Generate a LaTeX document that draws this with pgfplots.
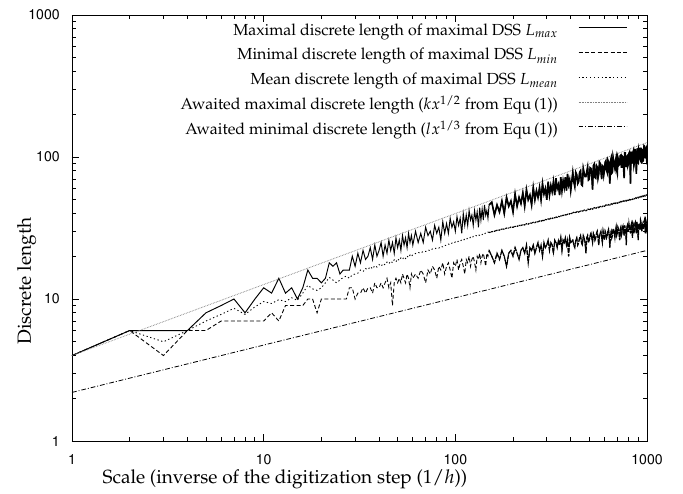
\documentclass[border=0pt]{standalone}
\usepackage[T1]{fontenc}
\usepackage{mathpazo}
\usepackage{helvet}
\usepackage{pgfplots}
\pgfplotsset{compat=1.18}
\usepackage{pgfplotstable}

\pgfplotstableread{
x max mean min
1 4 4 4
2 6 6 6
3 6 5 4
4 6 6 6
5 8 7 6
6 9 7.8 7
7 10 8.6 7
8 8 7.8 7
9 10 8.8 7
10 12 9.6 7
11 11 9.3 8
12 14 9.9 7
13 11 9.6 9
14 12 10.2 9
15 10 9.8 9
16 12 11.0 9
17 16 12.5 10
18 14 11.8 10
19 14 11.5 8
20 13 12.0 10
21 14 13.0 10
22 18 14.2 10
23 17 13.6 10
24 18 13.0 10
25 15 13.6 10
26 16 14.2 10
27 16 14.5 10
28 16 14.0 12
29 20 14.8 12
30 17 15.0 10
31 21 15.2 11
32 18 16.0 11
33 22 15.6 12
34 19 16.4 11
35 20 16.1 12
36 23 16.9 12
37 19 16.3 11
38 24 17.2 13
39 20 16.8 12
40 22 17.5 12
41 25 17.0 13
42 20 17.8 12
43 24 17.4 13
44 21 18.2 14
45 26 17.7 12
46 22 18.5 13
47 25 18.0 9
48 21 18.9 13
49 27 18.3 14
50 23 19.2 13
51 26 18.7 14
52 22 19.5 13
53 28 19.0 15
54 24 19.8 14
55 27 19.3 13
56 23 20.1 15
57 29 19.6 14
58 25 20.4 12
59 28 19.9 15
60 24 20.6 14
62 30 20.9 15
64 25 21.3 14
66 29 21.0 16
68 25 21.7 15
70 32 21.6 13
72 28 22.2 16
74 30 21.9 15
76 26 22.6 17
78 33 22.5 16
80 29 23.0 14
82 32 22.8 17
84 26 23.5 16
86 35 23.3 18
88 29 23.9 15
90 34 23.8 17
92 29 24.4 18
94 37 24.1 16
96 32 24.8 14
98 35 24.6 18
100 30 25.3 17
102 38 25.0 19
104 33 25.7 16
106 37 25.5 18
108 29 26.1 19
110 40 25.8 17
112 33 26.5 15
114 39 26.2 19
116 33 26.9 18
118 42 26.6 20
120 36 27.2 17
122 39 26.9 19
124 33 27.6 20
126 42 27.4 18
128 36 28.0 16
130 41 27.7 20
132 32 28.3 19
134 44 28.1 21
136 36 28.7 18
138 43 28.4 20
140 36 29.0 21
142 46 28.7 19
144 39 29.3 17
146 42 29.1 21
148 37 29.6 20
150 46 29.4 22
155 48 29.8 20
160 39 30.0 18
165 46 30.5 21
170 41 30.6 19
175 49 31.1 22
180 40 31.1 20
185 52 31.6 17
190 45 31.6 21
195 49 32.1 22
200 41 32.0 20
205 55 32.5 23
210 45 32.5 21
215 52 33.0 19
220 47 32.9 22
225 56 33.4 23
230 45 33.3 21
235 59 33.9 24
240 50 33.7 18
245 54 34.3 23
250 46 34.2 22
255 61 34.7 24
260 50 34.5 21
265 58 35.1 23
270 52 34.9 25
275 61 35.5 22
280 50 35.3 24
285 65 35.8 20
290 55 35.7 25
295 60 36.3 23
300 50 36.2 24
305 67 36.7 26
310 54 36.5 22
315 63 37.1 25
320 57 36.9 24
325 67 37.4 21
330 54 37.3 26
335 71 37.8 25
340 60 37.6 23
345 64 38.2 26
350 54 38.0 24
355 72 38.5 27
360 58 38.4 22
365 68 38.9 26
370 61 38.7 25
375 72 39.2 27
380 58 39.1 24
385 76 39.6 26
390 64 39.4 20
395 69 39.9 27
400 58 39.8 25
410 78 40.5 26
415 67 40.8 24
420 62 40.4 23
425 78 40.7 26
430 75 41.2 27
435 65 41.3 24
440 67 40.9 25
445 78 41.2 27
450 80 41.8 28
455 64 41.9 25
460 63 41.6 24
465 83 41.8 28
470 77 42.3 27
475 73 42.4 25
480 73 41.9 21
485 79 42.2 27
490 85 42.9 28
495 69 42.9 25
500 70 42.6 26
505 84 42.8 28
510 83 43.4 29
515 74 43.4 27
520 59 43.0 25
525 87 43.3 29
530 89 43.9 28
535 72 43.9 26
540 71 43.6 27
545 87 43.8 29
550 85 44.4 30
555 71 44.5 27
560 76 44.0 24
565 92 44.3 28
570 90 44.9 29
575 80 44.9 30
580 70 44.6 27
585 87 44.8 25
590 86 45.4 30
595 75 45.4 28
600 81 45.0 26
605 92 45.3 30
610 94 45.9 29
615 81 45.9 27
620 78 45.5 28
625 95 45.8 30
630 92 46.3 31
635 79 46.4 28
640 65 45.9 23
645 94 46.2 29
650 98 46.8 30
655 77 46.8 27
660 78 46.4 28
665 100 46.7 31
670 94 47.2 31
675 87 47.3 29
680 83 46.9 27
685 94 47.1 30
690 99 47.7 32
695 81 47.7 28
700 77 47.3 29
705 99 47.5 32
710 95 48.1 31
715 88 48.2 29
720 89 47.8 26
725 102 48.0 31
730 103 48.6 32
735 85 48.6 28
740 85 48.2 29
745 101 48.4 32
750 100 49.0 33
755 83 49.0 30
760 71 48.6 28
765 107 48.8 33
770 107 49.4 31
775 93 49.5 29
780 85 49.1 24
785 101 49.3 32
790 102 49.9 33
795 87 49.9 30
800 90 49.5 30
805 106 49.7 34
810 108 50.3 32
815 94 50.3 31
820 65 49.9 29
825 109 50.1 33
830 102 50.7 34
835 90 50.7 30
840 96 50.3 27
845 108 50.5 34
850 111 51.1 33
855 88 51.1 29
860 92 50.8 31
865 114 50.9 34
870 108 51.5 35
875 99 51.6 31
880 76 51.2 29
885 107 51.4 35
890 115 51.9 33
895 92 52.0 30
900 91 51.6 26
905 113 51.8 33
910 109 52.4 34
915 99 52.4 31
920 97 52.0 31
925 115 52.2 36
930 115 52.8 35
935 95 52.8 32
940 90 52.4 30
945 114 52.6 33
950 109 53.2 34
955 93 53.2 31
960 103 52.8 32
965 120 53.0 35
970 119 53.6 36
975 105 53.6 33
980 98 53.2 29
985 113 53.4 36
990 115 54.0 35
995 97 54.0 31
1000 89 53.7 32
}\dsstable

\begin{document}
\begin{tikzpicture}
\begin{axis}[
  scale only axis, width=359.4pt, height=266.25pt,
  xmode=log, ymode=log,
  xmin=1, xmax=1000, ymin=1, ymax=1000,
  xtick={1,10,100,1000}, xticklabels={1,10,100,1000},
  ytick={1,10,100,1000}, yticklabels={1,10,100,1000},
  tick align=inside,
  major tick length=4.4pt, minor tick length=2.5pt,
  tick style={black, line width=0.5pt},
  axis line style={line width=0.6pt},
  ticklabel style={font=\fontsize{8.8}{10}\sffamily},
  xticklabel style={anchor=base, inner sep=0pt, yshift=-14.4pt},
  yticklabel style={anchor=east, inner sep=0pt, xshift=-7.5pt},
  xlabel={Scale (inverse of the digitization step ($1/h$))},
  ylabel={Discrete length},
  label style={font=\fontsize{11.9}{14}\selectfont},
  xlabel style={at={(axis description cs:0,0)}, anchor=base west, xshift=15.6pt, yshift=-26.25pt},
  ylabel style={at={(axis description cs:-0.0713,0.2136)}, anchor=base west},
  legend plot pos=right,
  legend image code/.code={\draw[#1] (0pt,2.5pt) -- (30pt,2.5pt);},
  legend style={draw=none, fill=none, at={(rel axis cs:1,1)}, anchor=north east,
    xshift=-12.5pt, yshift=-4.5pt, inner sep=0pt, outer sep=0pt,
    row sep=4.6pt, column sep=12.5pt, font=\fontsize{10}{12}\selectfont,
    nodes={inner sep=0pt, text height=8pt, text depth=3pt}, cells={anchor=east}},
]
\addplot[black, line width=0.6pt] table[x=x, y=max] {\dsstable};
\addlegendentry{Maximal discrete length of maximal DSS $L_{max}$}
\addplot[black, line width=0.55pt, dash pattern=on 2.5pt off 1.5pt] table[x=x, y=min] {\dsstable};
\addlegendentry{Minimal discrete length of maximal DSS $L_{min}$}
\addplot[black, line width=0.55pt, dash pattern=on 0.8pt off 1.6pt] table[x=x, y=mean] {\dsstable};
\addlegendentry{Mean discrete length of maximal DSS $L_{mean}$}
\addplot[gray, line width=0.5pt, dash pattern=on 0.4pt off 0.6pt] coordinates {(1,4) (1000,126.49)};
\addlegendentry{Awaited maximal discrete length ($kx^{1/2}$ from Equ\,(1))}
\addplot[black, line width=0.5pt, dash pattern=on 3pt off 1.2pt on 0.6pt off 1.2pt] coordinates {(1,2.2) (1000,22)};
\addlegendentry{Awaited minimal discrete length ($lx^{1/3}$ from Equ\,(1))}
% denser rendering of the noisy high-scale part, as in the dense original data
\addplot[black, line width=1.0pt, forget plot, skip coords between index={0}{104}] table[x=x, y=max] {\dsstable};
\addplot[black, line width=0.75pt, forget plot, dash pattern=on 3pt off 0.6pt, skip coords between index={0}{104}] table[x=x, y=min] {\dsstable};
\addplot[black, line width=0.7pt, forget plot, dash pattern=on 1pt off 0.5pt, skip coords between index={0}{104}] table[x=x, y=mean] {\dsstable};
\end{axis}
\path (current axis.south west) ++(-45pt,-31.25pt);
\path (current axis.north east) ++(22.5pt,9.4pt);
\end{tikzpicture}
\end{document}
